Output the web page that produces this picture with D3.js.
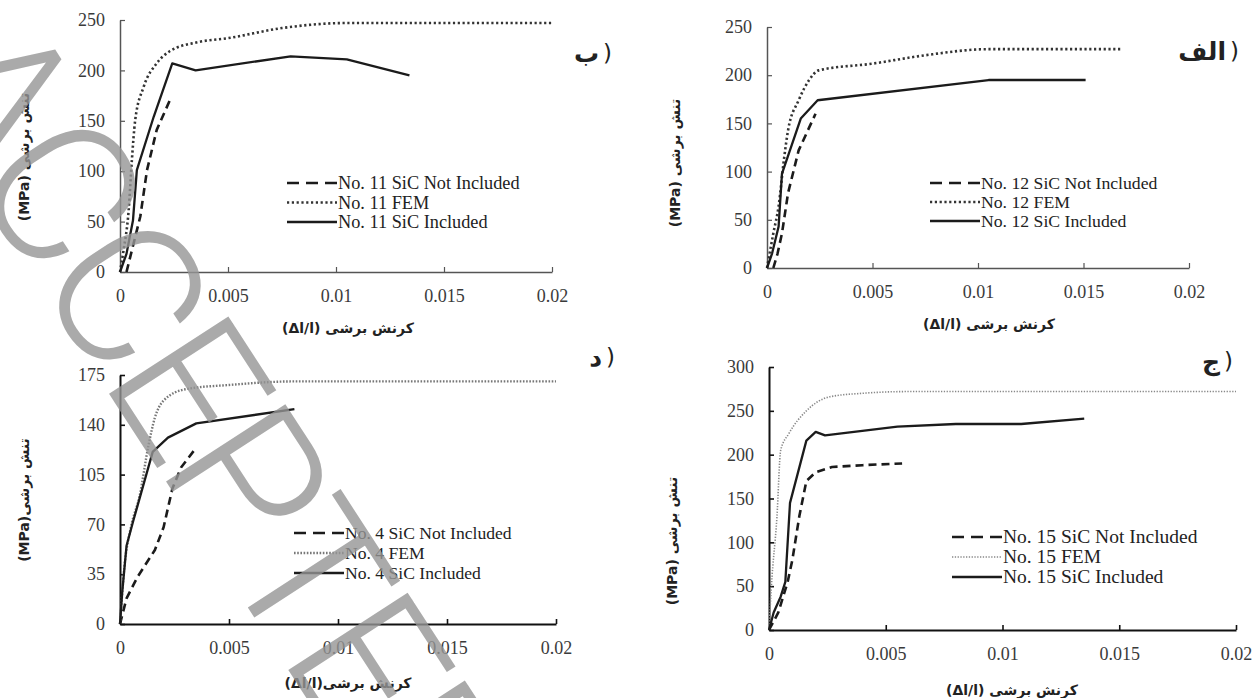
<!DOCTYPE html>
<html>
<head>
<meta charset="utf-8">
<script src="https://cdn.jsdelivr.net/npm/d3@7"></script>
<style>
  body { margin: 0; background: #fff; }
  svg text { font-family: "Liberation Serif", "DejaVu Serif", serif; }
  .fa { font-family: "DejaVu Sans", sans-serif; font-weight: bold; }
</style>
</head>
<body>
<div class="container"></div>
<script>
// tick values
const xTicks = [0, 0.005, 0.01, 0.015, 0.02];
const yTicks250 = [0, 50, 100, 150, 200, 250];
const yTicks175 = [0, 35, 70, 105, 140, 175];
const yTicks300 = [0, 50, 100, 150, 200, 250, 300];

// No. 11 (panel ب) - [strain, stress MPa]
const no11NotIncluded = [[0.0003, 0], [0.00094, 55], [0.00125, 101], [0.0017, 141], [0.0023, 170]];
const no11FEM = [[0, 0], [0.00016, 21], [0.0004, 61], [0.00055, 111], [0.0007, 150], [0.0011, 184], [0.0017, 207],
  [0.0023, 219], [0.0036, 228], [0.005, 232], [0.0075, 242], [0.0105, 247], [0.02, 247]];
const no11Included = [[0, 0], [0.0003, 18], [0.0006, 51], [0.00078, 101], [0.00156, 154], [0.00242, 207],
  [0.0035, 200], [0.0079, 214], [0.0105, 211], [0.0134, 195]];

// No. 12 (panel الف)
const no12NotIncluded = [[0.0003, 0], [0.0005, 15], [0.00071, 36], [0.001, 78], [0.0015, 122], [0.0023, 160]];
const no12FEM = [[0, 0], [0.0003, 36], [0.00055, 64], [0.0008, 112], [0.001, 143], [0.0015, 174], [0.002, 195],
  [0.00245, 205], [0.005, 212], [0.0075, 220.7], [0.0105, 227], [0.0168, 227]];
const no12Included = [[0, 0], [0.00024, 15], [0.00055, 43], [0.00071, 98], [0.0016, 155], [0.0024, 174],
  [0.0105, 195], [0.0151, 195]];

// No. 4 (panel د)
const no4NotIncluded = [[0, 0], [0.0003, 18], [0.0008, 33], [0.0016, 52], [0.002, 68], [0.0024, 95],
  [0.0028, 110], [0.0034, 122]];
const no4FEM = [[0, 0], [0.0002, 40], [0.0005, 68], [0.0009, 90], [0.0013, 125], [0.0016, 145], [0.002, 157],
  [0.003, 165], [0.005, 168], [0.008, 170.5], [0.02, 170.5]];
const no4Included = [[0, 0], [0.0001, 22], [0.0003, 55], [0.0006, 72], [0.0015, 121], [0.0022, 131],
  [0.0035, 141], [0.008, 151]];

// No. 15 (panel ج)
const no15NotIncluded = [[0, 0], [0.0004, 20], [0.0008, 55], [0.001, 80], [0.0013, 130], [0.0016, 170],
  [0.002, 180], [0.0027, 186], [0.004, 188], [0.0057, 190]];
const no15FEM = [[0, 0], [0.0001, 49], [0.00034, 129], [0.0005, 205], [0.00085, 224], [0.0016, 250],
  [0.0026, 266], [0.004, 270], [0.006, 272], [0.02, 272]];
const no15Included = [[0, 0], [0.0002, 20], [0.0005, 38], [0.0007, 55], [0.0009, 145], [0.0016, 216],
  [0.002, 226], [0.0024, 222], [0.0055, 232], [0.008, 235], [0.0108, 235], [0.0135, 241]];

const seriesNames = ["SiC Not Included", "FEM", "SiC Included"];

const panels = [
  { no: 11, data: [no11NotIncluded, no11FEM, no11Included], yTicks: yTicks250,
    x0: 120, x1: 552, yb: 272, yt: 20, axisColor: "#555", axisW: 1.5,
    dot: { color: "#333", w: 2.6, dash: "2.2,2.6" },
    legend: { x: 287, y: 183, gap: 19.5, fs: 18.3 },
    tag: { text: "ب", x: 599, y: 62 },
    yTitle: { x: 24, y: 157, text: "(MPa)  تنش برشی" },
    xTitle: { x: 348, y: 333, text: "(Δl/l)  کرنش برشی" } },
  { no: 12, data: [no12NotIncluded, no12FEM, no12Included], yTicks: yTicks250,
    x0: 767, x1: 1189, yb: 268, yt: 27, axisColor: "#555", axisW: 1.5,
    dot: { color: "#333", w: 2.6, dash: "2.2,2.6" },
    legend: { x: 930, y: 183, gap: 19, fs: 17.7 },
    tag: { text: "الف", x: 1226, y: 60 },
    yTitle: { x: 675, y: 163, text: "(MPa)  تنش برشی" },
    xTitle: { x: 989, y: 329, text: "(Δl/l)  کرنش برشی" } },
  { no: 4, data: [no4NotIncluded, no4FEM, no4Included], yTicks: yTicks175,
    x0: 120, x1: 556, yb: 624, yt: 375, axisColor: "#111", axisW: 2,
    dot: { color: "#777", w: 2.4, dash: "1.6,1.6" },
    legend: { x: 294, y: 533, gap: 20, fs: 17.6 },
    tag: { text: "د", x: 602, y: 366 },
    yTitle: { x: 24, y: 500, text: "(MPa)تنش برشی" },
    xTitle: { x: 348, y: 688, text: "(Δl/l)کرنش برشی" } },
  { no: 15, data: [no15NotIncluded, no15FEM, no15Included], yTicks: yTicks300,
    x0: 769, x1: 1236, yb: 630, yt: 367, axisColor: "#111", axisW: 2,
    dot: { color: "#888", w: 1.6, dash: "1.3,1.5" },
    legend: { x: 952, y: 537, gap: 20, fs: 19.5 },
    tag: { text: "ج", x: 1220, y: 370 },
    yTitle: { x: 672, y: 541, text: "(MPa)  تنش برشی" },
    xTitle: { x: 1012, y: 695, text: "(Δl/l)  کرنش برشی" } }
];

const svg = d3.select(".container").append("svg")
  .attr("width", 1260).attr("height", 698)
  .style("display", "block").style("background", "#fff");

panels.forEach(p => {
  const x = d3.scaleLinear().domain([0, 0.02]).range([p.x0, p.x1]);
  const y = d3.scaleLinear().domain([0, d3.max(p.yTicks)]).range([p.yb, p.yt]);
  const g = svg.append("g");

  const styles = [
    { color: "#1b1b1b", w: 2.6, dash: "8,5", curve: d3.curveLinear },
    { color: p.dot.color, w: p.dot.w, dash: p.dot.dash, curve: d3.curveMonotoneX },
    { color: "#1b1b1b", w: 2.3, dash: null, curve: d3.curveLinear }
  ];

  // axes, ticks pointing inward
  const xAxis = d3.axisBottom(x).tickValues(xTicks).tickFormat(d => String(d))
    .tickSizeInner(-5).tickSizeOuter(0).tickPadding(17);
  const yAxis = d3.axisLeft(y).tickValues(p.yTicks).tickFormat(d => String(d))
    .tickSizeInner(-5).tickSizeOuter(0).tickPadding(15);

  const gx = g.append("g").attr("transform", `translate(0,${p.yb})`).call(xAxis);
  const gy = g.append("g").attr("transform", `translate(${p.x0},0)`).call(yAxis);
  [gx, gy].forEach(a => {
    a.select(".domain").attr("stroke", p.axisColor).attr("stroke-width", p.axisW);
    a.selectAll(".tick line").attr("stroke", p.axisColor).attr("stroke-width", p.axisW * 0.8);
    a.selectAll(".tick text").attr("fill", "#3a3a3a").style("font-size", "18px")
      .style("font-family", "'Liberation Serif', serif");
  });
  gx.selectAll(".tick").filter(d => d === 0).select("line").remove();

  // curves
  p.data.forEach((pts, i) => {
    const s = styles[i];
    g.append("path")
      .datum(pts)
      .attr("fill", "none")
      .attr("stroke", s.color)
      .attr("stroke-width", s.w)
      .attr("stroke-dasharray", s.dash)
      .attr("stroke-linejoin", "round")
      .attr("d", d3.line().x(d => x(d[0])).y(d => y(d[1])).curve(s.curve));
  });

  // legend
  const lg = g.append("g").attr("transform", `translate(${p.legend.x},${p.legend.y})`);
  seriesNames.forEach((name, i) => {
    const s = styles[i];
    const row = lg.append("g").attr("transform", `translate(0,${i * p.legend.gap})`);
    row.append("line").attr("x1", 0).attr("x2", 50).attr("y1", 0).attr("y2", 0)
      .attr("stroke", s.color).attr("stroke-width", s.w)
      .attr("stroke-dasharray", i === 0 ? "12,7" : s.dash);
    row.append("text").attr("x", 51).attr("y", 6)
      .attr("fill", "#222").style("font-size", p.legend.fs + "px")
      .text(`No. ${p.no} ${name}`);
  });

  // panel tag: letter, then bracket on its right
  g.append("text").attr("class", "fa")
    .attr("x", p.tag.x).attr("y", p.tag.y).attr("text-anchor", "end")
    .style("font-size", "25px").attr("fill", "#222")
    .text(p.tag.text);
  g.append("text").attr("class", "fa")
    .attr("x", p.tag.x + 4).attr("y", p.tag.y - 1).attr("text-anchor", "start")
    .style("font-size", "23px").style("font-weight", "normal").attr("fill", "#222")
    .text(")");

  // axis titles
  g.append("text").attr("class", "fa")
    .attr("transform", `translate(${p.yTitle.x},${p.yTitle.y}) rotate(-90)`)
    .attr("text-anchor", "middle").attr("dy", "0.35em")
    .style("font-size", "14px").attr("fill", "#222")
    .text(p.yTitle.text);
  g.append("text").attr("class", "fa")
    .attr("x", p.xTitle.x).attr("y", p.xTitle.y).attr("text-anchor", "middle")
    .style("font-size", "14px").attr("fill", "#222")
    .text(p.xTitle.text);
});

// watermark: rotated word, placed so that its first C sits where the reference shows it
const wmAngle = 57;
const wm = svg.append("g");
const wmText = wm.append("text")
  .attr("x", 0).attr("y", 0)
  .style("font-family", "Roboto, sans-serif")
  .style("font-weight", 300)
  .style("font-size", "200px")
  .style("letter-spacing", "-9px")
  .attr("fill", "#959595")
  .attr("fill-opacity", 0.8)
  .text("ACCEPTED");
const ext = wmText.node().getExtentOfChar(1);
const cx = ext.x + ext.width / 2, cy = -71;
const rad = wmAngle * Math.PI / 180;
const rx = cx * Math.cos(rad) - cy * Math.sin(rad);
const ry = cx * Math.sin(rad) + cy * Math.cos(rad);
wm.attr("transform", `translate(${60 - rx},${188 - ry}) rotate(${wmAngle})`);
</script>
</body>
</html>
